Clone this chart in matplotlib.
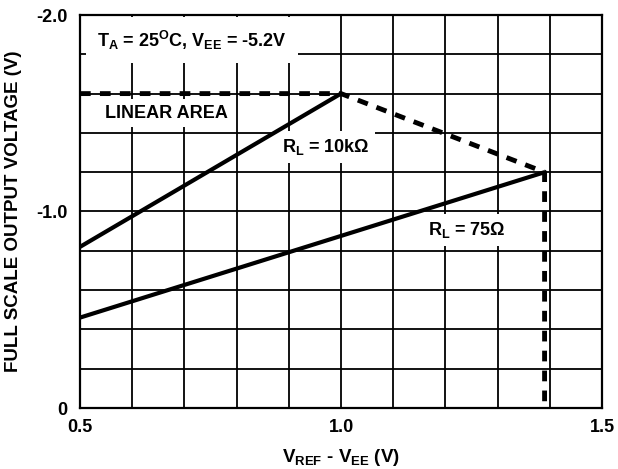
import matplotlib
matplotlib.use("Agg")
import matplotlib.pyplot as plt
import numpy as np

plt.rcParams["font.family"] = ["Liberation Sans", "DejaVu Sans"]
plt.rcParams["font.weight"] = "bold"
plt.rcParams["mathtext.fontset"] = "custom"
plt.rcParams["mathtext.rm"] = "Liberation Sans:bold"
plt.rcParams["mathtext.it"] = "Liberation Sans:bold"
plt.rcParams["mathtext.bf"] = "Liberation Sans:bold"
plt.rcParams["mathtext.default"] = "regular"

# data
x_10k = [0.5, 1.0]
y_10k = [-0.82, -1.6]
x_75 = [0.5, 1.39]
y_75 = [-0.46, -1.2]
# linear area boundary (dashed)
x_lim_line = [0.5, 1.0, 1.39, 1.39]
y_lim_line = [-1.6, -1.6, -1.2, 0.0]

x_ticks = np.round(np.arange(0.5, 1.51, 0.1), 2)
x_labels = ["0.5", "", "", "", "", "1.0", "", "", "", "", "1.5"]
y_ticks = np.round(np.arange(0.0, -2.01, -0.2), 2)
y_labels = ["0", "", "", "", "", "-1.0", "", "", "", "", "-2.0"]

fig = plt.figure(figsize=(6.18, 4.69), dpi=100)
ax = fig.add_axes([80 / 618, 1 - 408 / 469, 522 / 618, 393 / 469])

ax.set_xlim(0.5, 1.5)
ax.set_ylim(0.0, -2.0)
ax.set_xticks(x_ticks)
ax.set_xticklabels(x_labels, fontsize=13, fontweight="bold")
ax.set_yticks(y_ticks)
ax.set_yticklabels(y_labels, fontsize=13, fontweight="bold")
ax.tick_params(axis="x", length=0, pad=8)
ax.tick_params(axis="y", length=0, pad=9)
ax.grid(True, color="black", linewidth=1.3)
ax.set_axisbelow(True)
for s in ax.spines.values():
    s.set_linewidth(1.6)

ax.plot(x_10k, y_10k, color="black", linewidth=3.0, solid_capstyle="butt", zorder=4)
ax.plot(x_75, y_75, color="black", linewidth=3.0, solid_capstyle="butt", zorder=4)
ax.plot(x_lim_line, y_lim_line, color="black", linewidth=3.5, dashes=(2.2, 1.9), zorder=4)

box = dict(facecolor="white", edgecolor="none", pad=4)
ax.text(0.532, -1.873, "T$_{A}$ = 25$^{O}$C, V$_{EE}$ = -5.2V", fontsize=13,
        va="center", ha="left", bbox=dict(facecolor="white", edgecolor="none", pad=8), zorder=3)
ax.text(0.548, -1.50, "LINEAR AREA", fontsize=13, va="center", ha="left", bbox=box, zorder=3)
ax.text(0.887, -1.328, "R$_{L}$ = 10kΩ", fontsize=13, va="center", ha="left", bbox=box, zorder=3)
ax.text(1.166, -0.906, "R$_{L}$ = 75Ω", fontsize=13, va="center", ha="left", bbox=box, zorder=3)

ax.set_xlabel("V$_{REF}$ - V$_{EE}$ (V)", fontsize=13.5, fontweight="bold", labelpad=8)
ax.set_ylabel("FULL SCALE OUTPUT VOLTAGE (V)", fontsize=13.5, fontweight="bold", labelpad=10)

plt.savefig("out.png", dpi=100)
